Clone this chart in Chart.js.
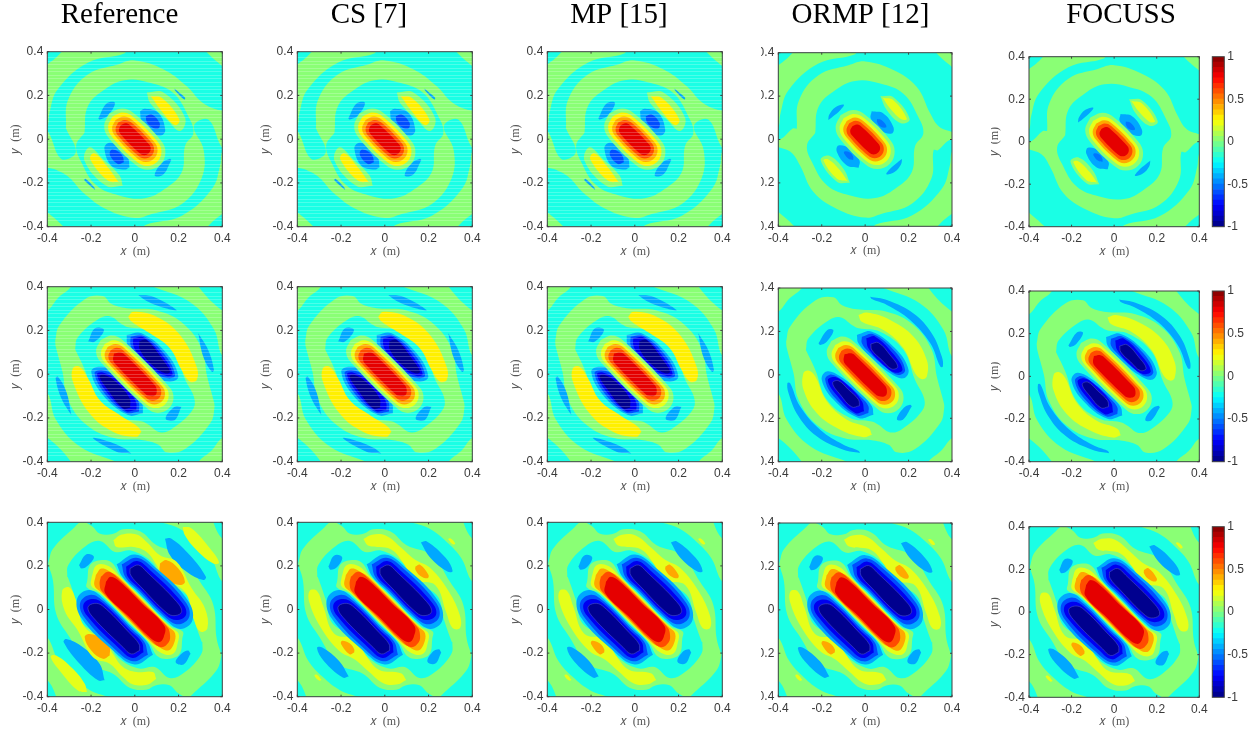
<!DOCTYPE html>
<html>
<head>
<meta charset="utf-8">
<script src="https://cdn.jsdelivr.net/npm/chart.js@4/dist/chart.umd.js"></script>
<style>
html, body { margin: 0; background: #fff; }
canvas { position: absolute; }
</style>
</head>
<body>
<script>
'use strict';
// ---- data. every loop is [contour level, x, y, x, y, ...] in metres
var panelTitles = ['Reference', 'CS [7]', 'MP [15]', 'ORMP [12]', 'FOCUSS'];
var tickValues = [-0.4, -0.2, 0, 0.2, 0.4];
var tickLabels = ['-0.4', '-0.2', '0', '0.2', '0.4'];
var colorbarTicks = [-1, -0.5, 0, 0.5, 1];
var colorbarLabels = ['-1', '-0.5', '0', '0.5', '1'];
var colorbarEdges = [-1, -.9375, -.875, -.8125, -.75, -.6875, -.625, -.5625, -.5, -.4375, -.375, -.3125, -.25, -.1875, -.125, -.0625,
    0, .0625, .125, .1875, .25, .3125, .375, .4375, .5, .5625, .625, .6875, .75, .8125, .875, .9375, 1];

var backgroundLoop = [-.2, -.6, -.6, .6, -.6, .6, .6, -.6, .6];

// outer = drawn twice (also point-mirrored), rings/core = half a closed curve, mirrored to close it
var r1Outer = [
    [.02, -.05, .42, -.046, .393, -.215, .35, -.353, .227, -.39, .12, -.40, .055, -.43, .03, -.43, .33, -.40, .342, -.337, .396, -.32, .43],
    [.02, .31, .43, .33, .396, .40, .334, .43, .31, .46, .46]
];
var r1RingsA = [
    [.02, -.315, .05, -.305, .18, -.215, .296, -.077, .342, 0, .36, .13, .32, .238, .242, .30, .175, .36, .14, .44, .11, .44, -.05, .40, -.04, .336, .09, .27, .06],
    [-.2, -.23, .03, -.215, .15, -.138, .227, -.046, .27, .069, .258, .176, .211, .245, .104, .268, .028]
];
var r1RingsB = [
    [.02, -.315, .05, -.305, .18, -.215, .296, -.077, .342, 0, .36, .13, .32, .238, .242, .30, .12, .34, .06, .40, .035, .44, .02, .44, .01, .385, -.005, .335, -.05],
    [-.2, -.23, .03, -.215, .15, -.138, .227, -.046, .27, .069, .258, .176, .211, .245, .104, .268, .028]
];
var r1IslandsA = [
    [-.42, -.167, .095, -.129, .163, -.091, .166, -.122, .11, -.159, .09],
    [-.42, .024, .128, .047, .139, .108, .12, .139, .044, .123, .018, .078, .029, .032, .082],
    [-.6, .05, .105, .078, .113, .113, .075, .108, .049, .078, .055, .055, .079],
    [-.42, .181, .232, .23, .189, .226, .181, .186, .22],
    [.02, .055, .213, .131, .213, .23, .098, .207, .037, .146, .09, .07, .166],
    [.28, .073, .197, .123, .189, .204, .09, .184, .064, .123, .128]
];
var r1IslandsB = [
    [-.42, -.17, .09, -.165, .115, -.135, .15, -.098, .16, -.115, .135, -.15, .105],
    [-.42, .03, .13, .084, .12, .13, .058, .123, .028, .069, .043, .026, .097],
    [-.52, .055, .095, .075, .09, .097, .065, .095, .055, .07, .06, .055, .08],
    [.02, .07, .2, .13, .195, .205, .095, .165, .075, .1, .135],
    [.2, .081, .192, .13, .181, .192, .097, .169, .092, .115, .143]
];
var r1CoreA = [
    [.02, -.117, .117, -.059, .14, -.003, .117, .117, -.003, .14, -.059],
    [.28, -.103, .103, -.056, .122, -.009, .103, .103, -.009, .122, -.056],
    [.42, -.088, .088, -.05, .104, -.012, .088, .088, -.012, .104, -.05],
    [.6, -.076, .076, -.046, .088, -.016, .076, .076, -.016, .088, -.046],
    [.8, -.064, .064, -.043, .073, -.022, .064, .064, -.022, .073, -.043]
];
var r1CoreB = [
    [.02, -.113, .113, -.055, .136, .001, .113, .113, .001, .136, -.055],
    [.2, -.099, .099, -.052, .118, -.005, .099, .099, -.005, .118, -.052],
    [.42, -.085, .085, -.047, .101, -.009, .085, .085, -.009, .101, -.047],
    [.6, -.074, .074, -.044, .086, -.014, .074, .074, -.014, .086, -.044],
    [.8, -.06, .06, -.039, .069, -.018, .06, .06, -.018, .069, -.039]
];

var r2Outer = [
    [.02, -.45, .28, -.4, .291, -.35, .35, -.292, .4, -.28, .45, -.45, .45],
    [.02, .084, .4, .253, .329, .361, .207, .4, .084, .45, .07, .45, .28, .4, .291, .292, .4, .28, .45, .07, .45]
];
var r2Rings = [
    [.02, -.364, .153, -.346, .222, -.23, .342, -.146, .357, -.108, .322, -.038, .302, .1, .291, .223, .23, .307, .114, .33, -.008, .361, -.124],
    [-.2, -.273, .114, -.261, .168, -.169, .25, -.115, .265, -.061, .23, -.03, .215, .069, .199, .177, .114, .23, -.024]
];
var r2IslandsA = [
    [-.42, .016, .362, .084, .354, .191, .293, .145, .30, .054, .335],
    [-.42, .29, .187, .336, .11, .362, .019, .352, .011, .313, .08],
    [-.42, -.213, .149, -.182, .21, -.141, .202, -.182, .149],
    [-.42, -.037, .179, .031, .187, .146, .095, .199, -.011, .161, -.034, .085, -.011, -.007, .08, -.034, .133],
    [-.6, -.019, .171, .039, .176, .138, .088, .184, -.004, .153, -.019, .085, .011, .001, .095, -.019, .133],
    [-.78, -.007, .164, .042, .167, .13, .08, .173, .001, .146, -.008, .085, .024, .008, .103, -.007, .133],
    [-.97, .021, .153, .054, .156, .123, .072, .161, .011, .138, .004, .085, .037, .024, .11],
    [.28, -.03, .263, -.007, .286, .1, .263, .207, .179, .283, .034, .283, -.027, .252, -.034, .214, .019, .161, .118, .069, .187, -.014, .24]
];
var r2IslandsB = [
    [-.42, .023, .36, .1, .345, .223, .283, .307, .191, .353, .084, .358, .038, .346, .038, .3, .145, .207, .253, .1, .322, .031, .349],
    [-.42, -.215, .145, -.174, .207, -.146, .204, -.177, .153, -.207, .138],
    [-.42, -.038, .184, .031, .199, .146, .114, .2, .022, .177, -.016, .115, .007, .023, .084, -.031, .145],
    [-.6, -.015, .176, .038, .187, .138, .107, .184, .022, .154, -.001, .1, .03, .015, .107, -.015, .145],
    [-.78, .005, .168, .046, .176, .127, .099, .172, .025, .138, .01, .084, .045, .015, .122],
    [-.97, .026, .142, .061, .148, .115, .091, .15, .038, .123, .027, .077, .068, .031, .114],
    [.2, -.031, .276, .008, .287, .115, .253, .223, .176, .284, .068, .284, -.008, .261, -.02, .23, .007, .177, .122, .084, .207, -.015, .245]
];
var r2Core = [
    [.02, -.156, .156, -.105, .177, -.056, .156, .156, -.056, .177, -.105],
    [.2, -.138, .138, -.096, .155, -.054, .138, .138, -.054, .155, -.096],
    [.42, -.124, .124, -.089, .138, -.054, .124, .124, -.054, .138, -.089],
    [.6, -.11, .11, -.082, .121, -.054, .11, .11, -.054, .121, -.082],
    [.8, -.095, .095, -.064, .099, -.042, .085, .085, -.042, .099, -.064]
];

var r3Outer = [
    [.02, .123, .40, .205, .37, .283, .31, .35, .235, .40, .127, .45, .11, .45, .31, .40, .325, .359, .40, .35, .45, .11, .45]
];
var r3Rings = [
    [.02, -.396, .211, -.373, .28, -.274, .379, -.243, .402, -.197, .383, -.159, .348, -.098, .348, -.053, .368, .024, .359, .1, .295, .214, .249, .298, .127, .359, .021, .374, -.132, .393, -.2],
    [-.2, -.309, .15, -.304, .204, -.228, .288, -.159, .314, -.091, .264, -.014, .27, .085, .211, .115, .135, .237, .066, .271, -.048, .306, -.148]
];
var r3Bands = [
    [-.42, -.083, .207, .001, .252, .1, .188, .242, .043, .264, -.048, .207, -.089, .13, -.037, .011, .083, -.056, .149],
    [-.6, -.06, .207, .008, .237, .085, .188, .231, .036, .249, -.033, .199, -.068, .14, -.035, .018, .087, -.043, .148],
    [-.78, -.04, .196, .011, .222, .069, .181, .219, .028, .234, -.025, .191, -.048, .143, -.026, .02, .097, -.032, .15],
    [-.97, -.022, .188, .016, .204, .054, .173, .191, .036, .214, -.01, .184, -.028, .147, -.016, .026, .106, -.019, .158]
];
var r3IslandsA = [
    [-.42, .138, .325, .168, .325, .252, .249, .325, .15, .313, .135, .237, .173, .161, .249],
    [.2, .219, .379, .26, .372, .344, .28, .385, .216, .359, .211, .283, .272, .229, .341],
    [-.42, -.255, .203, -.223, .252, -.187, .242, -.213, .203, -.243, .188],
    [.2, -.098, .318, -.06, .344, .008, .344, .054, .31, .115, .249, .191, .219, .26, .097, .321, .005, .332, -.086, .299, -.101, .268, -.04, .23, .079, .13, .149, .1, .203, .054, .264, -.007, .287, -.083, .287],
    [.42, .115, .211, .146, .226, .199, .188, .229, .127, .207, .112, .146, .135, .115, .173]
].concat(r3Bands);
var r3IslandsC = [
    [-.42, .165, .307, .192, .312, .278, .237, .31, .177, .286, .174, .208, .237],
    [.2, .289, .323, .301, .326, .322, .303, .31, .299],
    [-.42, -.258, .197, -.231, .248, -.195, .24, -.216, .197, -.247, .182],
    [.2, -.098, .323, -.059, .343, .004, .339, .074, .284, .137, .229, .208, .19, .294, .08, .344, -.03, .344, -.085, .31, -.085, .281, -.014, .231, .111, .137, .135, .09, .205, .027, .276, -.074, .292],
    [.42, .14, .197, .161, .205, .2, .158, .195, .143, .161, .155, .14, .182]
].concat(r3Bands);
var r3Core = [
    [.02, -.217, .135, -.205, .203, -.159, .226, -.106, .216, -.063, .151, .04, .048, .162, -.074, .219, -.101],
    [.2, -.197, .15, -.175, .203, -.121, .199, -.067, .149, .037, .045, .163, -.081, .199, -.109],
    [.42, -.178, .158, -.152, .188, -.098, .165, -.068, .143, .034, .041, .153, -.078, .184, -.109],
    [.6, -.155, .15, -.121, .173, -.07, .138, .03, .038, .149, -.081, .161, -.117],
    [.8, -.132, .127, -.11, .15, -.068, .127, .03, .03, .135, -.075]
];

var rowOuter = [r1Outer, r2Outer, r3Outer];
var rowRings = [
    [r1RingsA, r1RingsA, r1RingsA, r1RingsB, r1RingsB],
    [r2Rings, r2Rings, r2Rings, r2Rings, r2Rings],
    [r3Rings, r3Rings, r3Rings, r3Rings, r3Rings]
];
var rowIslands = [
    [r1IslandsA, r1IslandsA, r1IslandsA, r1IslandsB, r1IslandsB],
    [r2IslandsA, r2IslandsA, r2IslandsA, r2IslandsB, r2IslandsB],
    [r3IslandsA, r3IslandsC, r3IslandsC, r3IslandsC, r3IslandsC]
];
var rowCores = [
    [r1CoreA, r1CoreA, r1CoreA, r1CoreB, r1CoreB],
    [r2Core, r2Core, r2Core, r2Core, r2Core],
    [r3Core, r3Core, r3Core, r3Core, r3Core]
];

// ---- page layout, in pixels
var plotLeft = [47.3, 297.3, 547.3, 778.3, 1029];
var plotRight = [222.3, 472.3, 722.3, 952, 1199.3];
var plotTop = [[51.7, 51.7, 51.7, 52.7, 56.7], [286.7, 286.7, 286.7, 288, 291], [522.3, 522.3, 522.3, 523, 526.7]];
var plotBottom = [[226.7, 226.7, 226.7, 226.3, 226.7], [461.7, 461.7, 461.7, 461.7, 461.7], [696.7, 696.7, 696.7, 696.7, 697.3]];
var canvasLeft = [0, 250, 500, 761, 991];
var canvasRight = [239, 488, 738, 960, 1251];

var TICK_COLOR = '#3a3a3a';
var AXIS_LABEL_COLOR = '#555';

function jet(v) {
    var t = (v + 1) / 2;
    var part = function (c) { return Math.round(255 * Math.max(0, Math.min(1, 1.5 - Math.abs(4 * t - c)))); };
    return 'rgb(' + part(3) + ',' + part(2) + ',' + part(1) + ')';
}

function toPoints(flat, sign) {
    var pts = [];
    for (var i = 1; i < flat.length; i += 2) pts.push({x: sign * flat[i], y: sign * flat[i + 1]});
    return pts;
}

function closeLoop(pts) { return pts.concat([pts[0]]); }

function loopDataset(level, pts, outlined) {
    // the deepest band carries a pale contour line in the unbanded panels
    var edge = outlined && level === -.97;
    return {
        data: pts, showLine: true, pointRadius: 0, tension: 0.4,
        borderWidth: edge ? 0.6 : 0, borderColor: edge ? '#4650c0' : jet(level),
        backgroundColor: jet(level), fill: 'shape'
    };
}

function buildDatasets(row, col) {
    var outlined = row === 2 || col > 2;
    var sets = [loopDataset(backgroundLoop[0], closeLoop(toPoints(backgroundLoop, 1)), false)];
    var twin = function (loop) {
        sets.push(loopDataset(loop[0], closeLoop(toPoints(loop, 1)), outlined));
        sets.push(loopDataset(loop[0], closeLoop(toPoints(loop, -1)), outlined));
    };
    var half = function (loop) {
        sets.push(loopDataset(loop[0], closeLoop(toPoints(loop, 1).concat(toPoints(loop, -1))), outlined));
    };
    rowOuter[row].forEach(twin);
    rowRings[row][col].forEach(half);
    rowIslands[row][col].forEach(twin);
    rowCores[row][col].forEach(half);
    // painter's order: first in the list goes at the bottom
    sets.forEach(function (s, i) { s.order = sets.length - i; });
    return sets;
}

// MATLAB style box with inward ticks
var boxPlugin = {
    id: 'box',
    afterDraw: function (chart, args, opts) {
        var a = chart.chartArea, c = chart.ctx;
        c.save();
        c.strokeStyle = '#404040';
        c.lineWidth = 1;
        c.strokeRect(a.left, a.top, a.right - a.left, a.bottom - a.top);
        if (opts.ticksX) {
            opts.ticksX.forEach(function (v) {
                var px = chart.scales.x.getPixelForValue(v);
                c.beginPath();
                c.moveTo(px, a.top); c.lineTo(px, a.top + 2);
                c.moveTo(px, a.bottom); c.lineTo(px, a.bottom - 2);
                c.stroke();
            });
        }
        opts.ticksY.forEach(function (v) {
            var py = chart.scales.y.getPixelForValue(v);
            c.beginPath();
            c.moveTo(a.left, py); c.lineTo(a.left + 2, py);
            c.moveTo(a.right, py); c.lineTo(a.right - 2, py);
            c.stroke();
        });
        c.restore();
    }
};

function fixScale(size, prop) {
    return function (scale) {
        scale[prop] = size;
        scale.paddingLeft = scale.paddingRight = scale.paddingTop = scale.paddingBottom = 0;
    };
}

function makeCanvas(left, top, w, h) {
    var cv = document.createElement('canvas');
    cv.width = w; cv.height = h;
    cv.style.left = left + 'px'; cv.style.top = top + 'px';
    document.body.appendChild(cv);
    return cv;
}

function tickSetter(values) {
    return function (scale) { scale.ticks = values.map(function (v) { return {value: v}; }); };
}

function buildPanel(row, col) {
    var top = plotTop[row][col], bottom = plotBottom[row][col];
    var cLeft = canvasLeft[col], cRight = canvasRight[col];
    var cTop = row === 0 ? 0 : Math.floor(top - 10);
    var cBottom = Math.ceil(bottom + 33);
    var hasYTitle = col !== 3;

    var scales = {
        x: {
            type: 'linear', min: -0.4, max: 0.4,
            grid: {display: false, drawTicks: false}, border: {display: false},
            afterBuildTicks: tickSetter(tickValues),
            afterFit: fixScale(33, 'height'),
            ticks: {
                padding: 5, color: TICK_COLOR, maxRotation: 0, autoSkip: false,
                font: {family: '"Liberation Sans"', size: 12},
                callback: function (v) { return tickLabels[tickValues.indexOf(v)]; }
            },
            title: {display: true, text: '\uD835\uDC65  (m)', color: AXIS_LABEL_COLOR, padding: {top: 0, bottom: 0.8},
                font: {family: '"Liberation Serif"', size: 12}}
        },
        y: {
            type: 'linear', min: -0.4, max: 0.4,
            grid: {display: false, drawTicks: false}, border: {display: false},
            afterBuildTicks: tickSetter(tickValues),
            afterFit: fixScale(plotLeft[col] - cLeft, 'width'),
            ticks: {
                padding: 4, color: TICK_COLOR, autoSkip: false,
                font: {family: '"Liberation Sans"', size: 12},
                callback: function (v) { return tickLabels[tickValues.indexOf(v)]; }
            },
            title: {display: hasYTitle, text: '\uD835\uDC66  (m)', color: AXIS_LABEL_COLOR,
                padding: {top: col === 4 ? -3.2 : 8.8, bottom: 0},
                font: {family: '"Liberation Serif"', size: 12}}
        },
        // empty axis that only holds the space right of the plot, so the title centres on the canvas
        rightGap: {
            type: 'linear', position: 'right', min: -0.4, max: 0.4,
            grid: {display: false, drawTicks: false}, border: {display: false},
            ticks: {display: false},
            afterFit: fixScale(cRight - plotRight[col], 'width')
        }
    };
    // the white banding of the first three columns
    if (row < 2 && col < 3) {
        scales.hatch = {
            type: 'linear', position: 'left', min: -0.4, max: 0.4,
            border: {display: false},
            grid: {display: true, drawTicks: false, color: 'rgba(255,255,255,0.22)', lineWidth: 1, z: 1},
            ticks: {display: false, stepSize: 0.0162, autoSkip: false},
            afterFit: fixScale(0, 'width')
        };
    }

    new Chart(makeCanvas(cLeft, cTop, cRight - cLeft, cBottom - cTop), {
        type: 'scatter',
        data: {datasets: buildDatasets(row, col)},
        plugins: [boxPlugin],
        options: {
            responsive: false, animation: false, events: [],
            layout: {padding: {
                left: 0, right: 0,
                top: row === 0 ? 0 : top - cTop,
                bottom: cBottom - bottom - 33
            }},
            elements: {line: {capBezierPoints: false}},
            plugins: {
                legend: {display: false}, tooltip: {enabled: false},
                box: {ticksX: tickValues, ticksY: tickValues},
                title: {
                    display: row === 0, text: panelTitles[col], color: '#000',
                    font: {family: '"Liberation Serif"', size: 29, weight: 'normal', lineHeight: 1},
                    padding: {top: 1, bottom: top - 30}
                }
            },
            scales: scales
        }
    });
}

function buildColorbar(row) {
    var top = plotTop[row][4], bottom = plotBottom[row][4];
    var cLeft = 1205, cWidth = 50;
    var cTop = Math.floor(top - 8), cBottom = Math.ceil(bottom + 8);
    var sets = [];
    for (var i = 0; i < colorbarEdges.length - 1; i++) {
        sets.push({
            data: [[colorbarEdges[i], colorbarEdges[i + 1]]],
            backgroundColor: jet((colorbarEdges[i] + colorbarEdges[i + 1]) / 2),
            borderWidth: 0, grouped: false, barPercentage: 1, categoryPercentage: 1
        });
    }
    new Chart(makeCanvas(cLeft, cTop, cWidth, cBottom - cTop), {
        type: 'bar',
        data: {labels: ['level'], datasets: sets},
        plugins: [boxPlugin],
        options: {
            responsive: false, animation: false, events: [],
            layout: {padding: {left: 1212.3 - cLeft, top: top - cTop, bottom: cBottom - bottom, right: 0}},
            plugins: {legend: {display: false}, tooltip: {enabled: false}, box: {ticksY: []}},
            scales: {
                x: {display: false},
                y: {
                    position: 'right', min: -1, max: 1,
                    grid: {display: false, drawTicks: false}, border: {display: false},
                    afterBuildTicks: tickSetter(colorbarTicks),
                    afterFit: fixScale(cLeft + cWidth - 1224.3, 'width'),
                    ticks: {
                        padding: 3, color: TICK_COLOR, autoSkip: false,
                        font: {family: '"Liberation Sans"', size: 12},
                        callback: function (v) { return colorbarLabels[colorbarTicks.indexOf(v)]; }
                    }
                }
            }
        }
    });
}

for (var r = 0; r < 3; r++) {
    for (var k = 0; k < 5; k++) buildPanel(r, k);
    buildColorbar(r);
}
</script>
</body>
</html>
